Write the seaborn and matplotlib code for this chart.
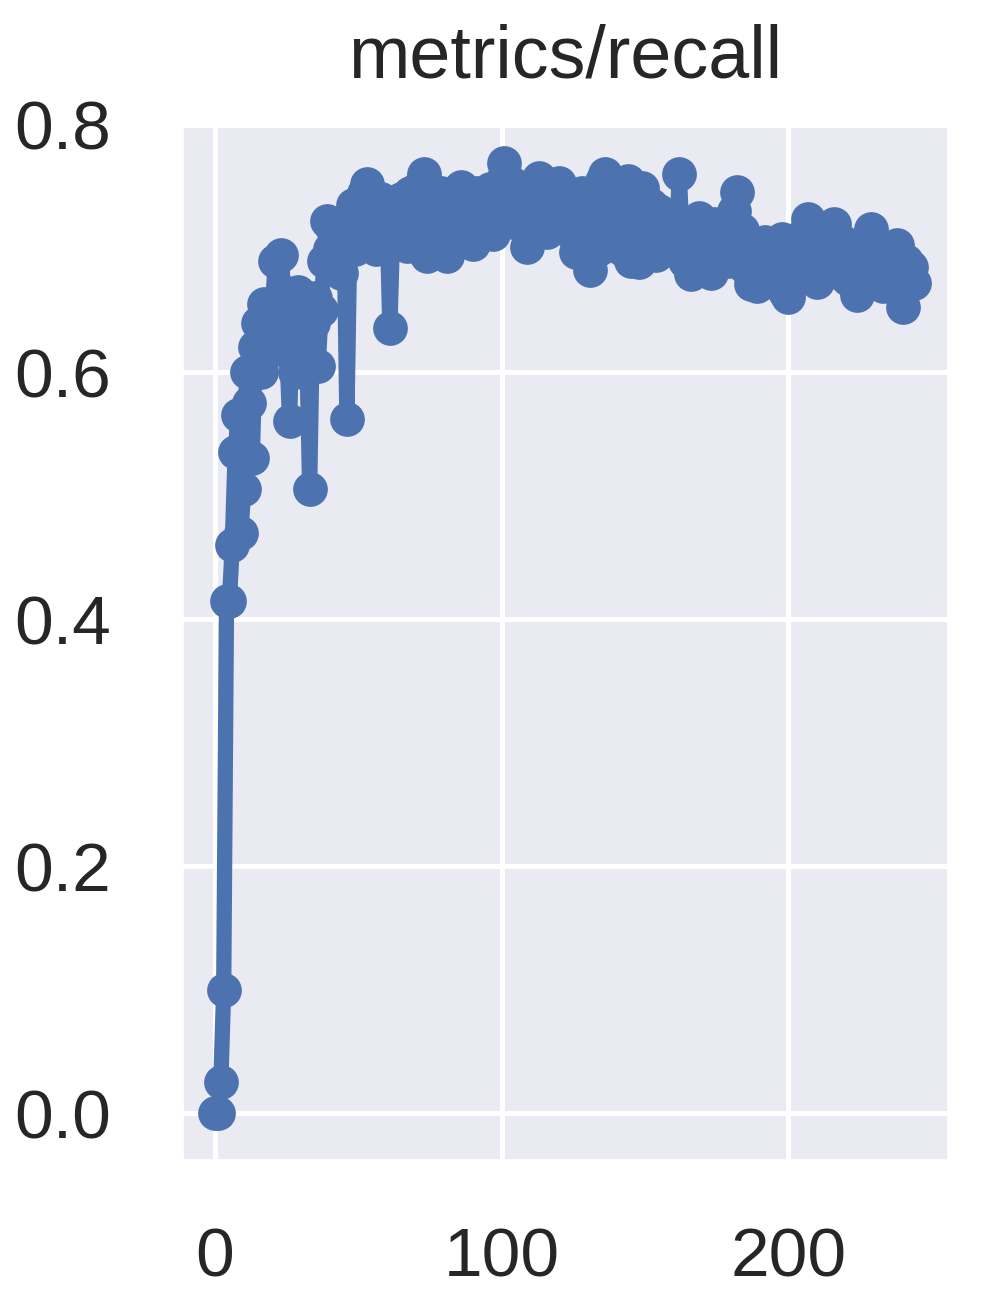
import numpy as np
import pandas as pd
import matplotlib
matplotlib.use("Agg")
import matplotlib.pyplot as plt
import seaborn as sns

# recall per epoch
recall = [
    0.000, 0.000, 0.025, 0.100, 0.415, 0.415, 0.460, 0.535, 0.565, 0.470,
    0.505, 0.600, 0.575, 0.530, 0.620, 0.640, 0.600, 0.655, 0.615, 0.640,
    0.650, 0.690, 0.630, 0.695, 0.665, 0.620, 0.560, 0.650, 0.600, 0.665,
    0.630, 0.655, 0.620, 0.505, 0.640, 0.660, 0.605, 0.650, 0.690, 0.722,
    0.700, 0.715, 0.690, 0.710, 0.680, 0.720, 0.562, 0.705, 0.735, 0.700,
    0.725, 0.710, 0.745, 0.752, 0.720, 0.735, 0.700, 0.715, 0.740, 0.705,
    0.725, 0.636, 0.715, 0.730, 0.705, 0.740, 0.720, 0.702, 0.745, 0.725,
    0.735, 0.750, 0.700, 0.760, 0.694, 0.740, 0.720, 0.735, 0.710, 0.745,
    0.725, 0.694, 0.740, 0.715, 0.735, 0.720, 0.750, 0.712, 0.740, 0.730,
    0.704, 0.745, 0.725, 0.740, 0.715, 0.735, 0.748, 0.712, 0.745, 0.730,
    0.755, 0.769, 0.740, 0.725, 0.752, 0.735, 0.720, 0.748, 0.730, 0.701,
    0.740, 0.750, 0.725, 0.757, 0.735, 0.745, 0.713, 0.740, 0.730, 0.748,
    0.753, 0.725, 0.740, 0.715, 0.735, 0.720, 0.697, 0.730, 0.745, 0.715,
    0.735, 0.683, 0.725, 0.745, 0.700, 0.755, 0.760, 0.720, 0.740, 0.705,
    0.745, 0.725, 0.700, 0.735, 0.755, 0.690, 0.730, 0.740, 0.689, 0.749,
    0.720, 0.700, 0.735, 0.725, 0.695, 0.730, 0.710, 0.725, 0.700, 0.720,
    0.715, 0.700, 0.760, 0.710, 0.690, 0.720, 0.679, 0.715, 0.700, 0.725,
    0.705, 0.690, 0.715, 0.680, 0.720, 0.700, 0.710, 0.695, 0.715, 0.690,
    0.705, 0.730, 0.746, 0.700, 0.715, 0.685, 0.705, 0.671, 0.700, 0.670,
    0.695, 0.685, 0.705, 0.675, 0.700, 0.690, 0.680, 0.700, 0.708, 0.665,
    0.661, 0.690, 0.700, 0.675, 0.695, 0.710, 0.690, 0.724, 0.700, 0.680,
    0.673, 0.705, 0.690, 0.710, 0.685, 0.700, 0.720, 0.695, 0.680, 0.705,
    0.690, 0.675, 0.700, 0.685, 0.662, 0.695, 0.680, 0.700, 0.690, 0.716,
    0.705, 0.690, 0.700, 0.670, 0.695, 0.680, 0.700, 0.690, 0.703, 0.665,
    0.653, 0.690, 0.675, 0.685, 0.672,
]
epochs = list(range(len(recall)))
x_ticks = [0, 100, 200]
y_ticks = [0.0, 0.2, 0.4, 0.6, 0.8]
title = "metrics/recall"

df = pd.DataFrame({"epoch": epochs, "recall": recall})

sns.set_theme(style="darkgrid")
plt.rcParams['font.family'] = ['Liberation Sans', 'DejaVu Sans']
plt.rcParams['grid.linewidth'] = 3.6

fig = plt.figure(figsize=(9.82, 13.05), dpi=100)
ax = fig.add_axes([183 / 982, 1 - 1160 / 1305, (948 - 183) / 982, (1160 - 125) / 1305])

sns.lineplot(data=df, x="epoch", y="recall", ax=ax, color="#4C72B0",
             marker="o", markersize=25, markeredgewidth=0, linewidth=11)

ax.set_xlim(-11.2, 255.8)
ax.set_ylim(-0.038, 0.798)
ax.set_xticks(x_ticks)
ax.set_yticks(y_ticks)
ax.set_xticklabels([str(t) for t in x_ticks])
ax.set_yticklabels([f"{t:.1f}" for t in y_ticks])
ax.tick_params(axis="both", labelsize=50, length=0, colors="#262626")
ax.tick_params(axis="y", pad=52)
ax.tick_params(axis="x", pad=48)
ax.set_xlabel("")
ax.set_ylabel("")
ax.set_title(title, fontsize=53, pad=34, color="#262626")

fig.savefig("out.png", dpi=100)
